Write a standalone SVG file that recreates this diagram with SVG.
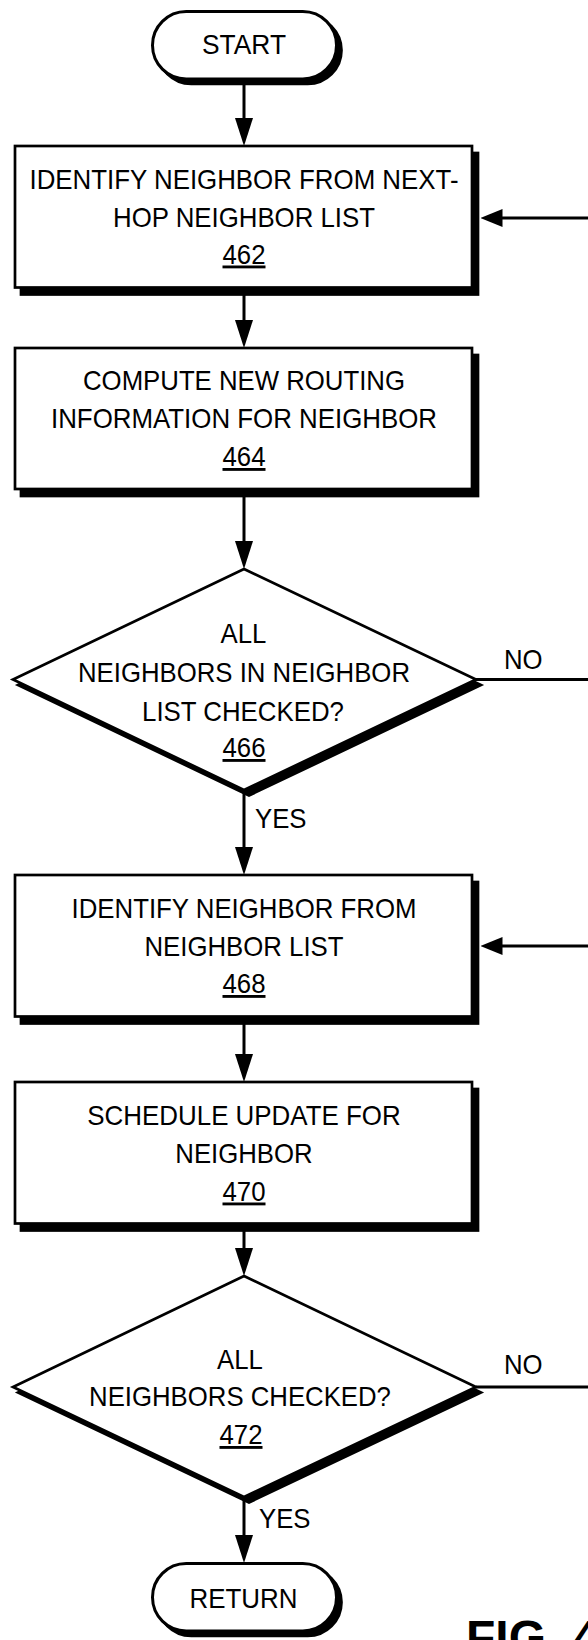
<svg xmlns="http://www.w3.org/2000/svg" width="588" height="1640" viewBox="0 0 588 1640">
  <style>
    .bg { fill: #ffffff; }
    .shadow { fill: #000000; stroke: #000000; stroke-width: 2.7; stroke-linejoin: miter; }
    .shape { fill: #ffffff; stroke: #000000; stroke-width: 2.7; stroke-linejoin: miter; }
    .term { fill: #ffffff; stroke: #000000; stroke-width: 3; }
    .edge { fill: none; stroke: #000000; stroke-width: 3; }
    .t { font-family: "Liberation Sans", Arial, sans-serif; font-size: 28.5px; fill: #000000; text-anchor: middle; }
    .lbl { font-family: "Liberation Sans", Arial, sans-serif; font-size: 28px; fill: #000000; text-anchor: start; }
    .num { text-decoration: underline; }
    .fig { font-family: "Liberation Sans", Arial, sans-serif; font-size: 48px; font-weight: bold; fill: #000000; }
  </style>
  <defs>
    <!-- arrowheads: long one for vertical flow, shorter one for loop-backs -->
    <marker id="ah-v" viewBox="0 0 28 18" markerWidth="28" markerHeight="18" refX="22" refY="9" orient="auto" markerUnits="userSpaceOnUse">
      <path d="M0,0 L28,9 L0,18 Z" fill="#000000"/>
    </marker>
    <marker id="ah-h" viewBox="0 0 22 18" markerWidth="22" markerHeight="18" refX="16" refY="9" orient="auto" markerUnits="userSpaceOnUse">
      <path d="M0,0 L22,9 L0,18 Z" fill="#000000"/>
    </marker>
  </defs>

  <rect class="bg" x="0" y="0" width="588" height="1640"/>

  <!-- connectors -->
  <g id="connectors">
    <path class="edge" d="M244,79 V140" marker-end="url(#ah-v)"/>
    <path class="edge" d="M244,287 V342" marker-end="url(#ah-v)"/>
    <path class="edge" d="M244,489 V563" marker-end="url(#ah-v)"/>
    <path class="edge" d="M244,790 V869" marker-end="url(#ah-v)"/>
    <path class="edge" d="M244,1016 V1076" marker-end="url(#ah-v)"/>
    <path class="edge" d="M244,1223 V1270" marker-end="url(#ah-v)"/>
    <path class="edge" d="M244,1497 V1557" marker-end="url(#ah-v)"/>
    <!-- NO branches loop back along the right margin -->
    <path class="edge" d="M476,679.5 H594 V218 H486.5" marker-end="url(#ah-h)"/>
    <path class="edge" d="M476,1387 H594 V946 H486.5" marker-end="url(#ah-h)"/>
    <text class="lbl" x="504" y="669" textLength="38.6" lengthAdjust="spacingAndGlyphs">NO</text>
    <text class="lbl" x="255" y="828" textLength="51.5" lengthAdjust="spacingAndGlyphs">YES</text>
    <text class="lbl" x="504" y="1374" textLength="38.6" lengthAdjust="spacingAndGlyphs">NO</text>
    <text class="lbl" x="259" y="1528" textLength="51.5" lengthAdjust="spacingAndGlyphs">YES</text>
  </g>

  <g id="start">
    <rect class="shadow" x="157.5" y="16.5" width="184" height="67.5" rx="33.75"/>
    <rect class="term" x="152.5" y="11.5" width="184" height="67.5" rx="33.75"/>
    <text class="t" x="244" y="54" textLength="84" lengthAdjust="spacingAndGlyphs">START</text>
  </g>

  <g id="step462">
    <rect class="shadow" x="21" y="153" width="457" height="141.5"/>
    <rect class="shape" x="15" y="146" width="457" height="141.5"/>
    <text class="t" x="244" y="188.5" textLength="429" lengthAdjust="spacingAndGlyphs">IDENTIFY NEIGHBOR FROM NEXT-</text>
    <text class="t" x="244" y="227" textLength="262" lengthAdjust="spacingAndGlyphs">HOP NEIGHBOR LIST</text>
    <text class="t num" x="244" y="263.5" textLength="43" lengthAdjust="spacingAndGlyphs">462</text>
  </g>

  <g id="step464">
    <rect class="shadow" x="21" y="355" width="457" height="141"/>
    <rect class="shape" x="15" y="348" width="457" height="141"/>
    <text class="t" x="244" y="390" textLength="322" lengthAdjust="spacingAndGlyphs">COMPUTE NEW ROUTING</text>
    <text class="t" x="244" y="428" textLength="386" lengthAdjust="spacingAndGlyphs">INFORMATION FOR NEIGHBOR</text>
    <text class="t num" x="244" y="466" textLength="43" lengthAdjust="spacingAndGlyphs">464</text>
  </g>

  <g id="decision466">
    <polygon class="shadow" points="249,574.5 481,685 249,795.5 18,685"/>
    <polygon class="shape" points="244,569 476,679.5 244,790 13,679.5"/>
    <text class="t" x="243.5" y="643" textLength="45.8" lengthAdjust="spacingAndGlyphs">ALL</text>
    <text class="t" x="244" y="682" textLength="332" lengthAdjust="spacingAndGlyphs">NEIGHBORS IN NEIGHBOR</text>
    <text class="t" x="243" y="720.5" textLength="201.8" lengthAdjust="spacingAndGlyphs">LIST CHECKED?</text>
    <text class="t num" x="244" y="757" textLength="43" lengthAdjust="spacingAndGlyphs">466</text>
  </g>

  <g id="step468">
    <rect class="shadow" x="21" y="882" width="457" height="141.5"/>
    <rect class="shape" x="15" y="875" width="457" height="141.5"/>
    <text class="t" x="244" y="918" textLength="345" lengthAdjust="spacingAndGlyphs">IDENTIFY NEIGHBOR FROM</text>
    <text class="t" x="244" y="956" textLength="199" lengthAdjust="spacingAndGlyphs">NEIGHBOR LIST</text>
    <text class="t num" x="244" y="993" textLength="43" lengthAdjust="spacingAndGlyphs">468</text>
  </g>

  <g id="step470">
    <rect class="shadow" x="21" y="1089" width="457" height="141.5"/>
    <rect class="shape" x="15" y="1082" width="457" height="141.5"/>
    <text class="t" x="244" y="1125" textLength="313.3" lengthAdjust="spacingAndGlyphs">SCHEDULE UPDATE FOR</text>
    <text class="t" x="244" y="1162.5" textLength="137.4" lengthAdjust="spacingAndGlyphs">NEIGHBOR</text>
    <text class="t num" x="244" y="1200.5" textLength="43" lengthAdjust="spacingAndGlyphs">470</text>
  </g>

  <g id="decision472">
    <polygon class="shadow" points="249,1281.5 481,1392.5 249,1502.5 18,1392.5"/>
    <polygon class="shape" points="244,1276 476,1387 244,1497 13,1387"/>
    <text class="t" x="240" y="1369" textLength="45.8" lengthAdjust="spacingAndGlyphs">ALL</text>
    <text class="t" x="240" y="1405.5" textLength="301.9" lengthAdjust="spacingAndGlyphs">NEIGHBORS CHECKED?</text>
    <text class="t num" x="241" y="1444" textLength="43" lengthAdjust="spacingAndGlyphs">472</text>
  </g>

  <g id="return">
    <rect class="shadow" x="157.5" y="1568.5" width="184" height="67.5" rx="33.75"/>
    <rect class="term" x="152.5" y="1563.5" width="184" height="67.5" rx="33.75"/>
    <text class="t" x="243.5" y="1608" textLength="108" lengthAdjust="spacingAndGlyphs">RETURN</text>
  </g>

  <text class="fig" x="466" y="1654">FIG. 4</text>
</svg>
